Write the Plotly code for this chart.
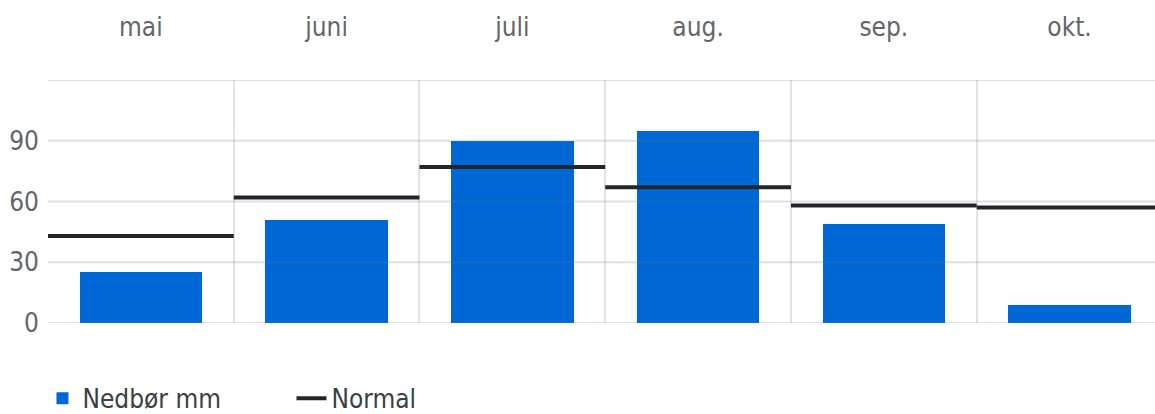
import plotly.graph_objects as go

# Monthly precipitation vs. normal
months = ["mai", "juni", "juli", "aug.", "sep.", "okt."]
nedbor_mm = [25, 51, 90, 95, 49, 9]
normal_mm = [43, 62, 77, 67, 58, 57]
y_ticks = [0, 30, 60, 90, 120]
y_tick_text = ["0", "30", "60", "90", ""]

FONT = "Liberation Sans Narrow, Arial Narrow, DejaVu Sans Condensed, Liberation Sans, sans-serif"
BAR_BLUE = "#0068d6"
GRID = "rgba(100,120,150,0.22)"

centers = [i + 0.5 for i in range(len(months))]

# Normal: one flat segment across each month's column
seg_x, seg_y = [], []
for i, v in enumerate(normal_mm):
    seg_x += [i, i + 1, None]
    seg_y += [v, v, None]

fig = go.Figure()
fig.add_trace(go.Bar(
    x=centers, y=nedbor_mm, width=0.66, name="Nedbør mm",
    marker=dict(color=BAR_BLUE, line=dict(width=0)),
))
fig.add_trace(go.Scatter(
    x=seg_x, y=seg_y, mode="lines", name="Normal",
    line=dict(color="#232628", width=4),
))

# horizontal grid drawn above the bars
for v in y_ticks:
    fig.add_shape(type="line", xref="paper", x0=0, x1=1, yref="y", y0=v, y1=v,
                  line=dict(color=GRID, width=2), layer="above")

fig.update_layout(
    width=1155, height=414,
    margin=dict(l=48, r=0, t=80, b=91, autoexpand=False),
    paper_bgcolor="white", plot_bgcolor="white",
    font=dict(family=FONT, size=26, color="#62666c"),
    bargap=0,
    legend=dict(
        orientation="h", x=-0.005, xanchor="left", y=-0.31, yanchor="middle",
        font=dict(family=FONT, size=26, color="#3a3f45"),
        entrywidth=204, entrywidthmode="pixels",
    ),
    xaxis=dict(
        range=[0, 5.96], side="top",
        tickvals=centers, ticktext=months, ticks="",
        ticklabelstandoff=38,
        showgrid=False, zeroline=False,
        minor=dict(tick0=0, dtick=1, showgrid=True, gridcolor="#e0e4e9", gridwidth=2),
        showline=False,
    ),
    yaxis=dict(
        range=[0, 120], tickvals=y_ticks, ticktext=y_tick_text,
        showgrid=False, zeroline=False, ticks="",
        ticklabelstandoff=8,
    ),
)

fig.write_html("out.html")
